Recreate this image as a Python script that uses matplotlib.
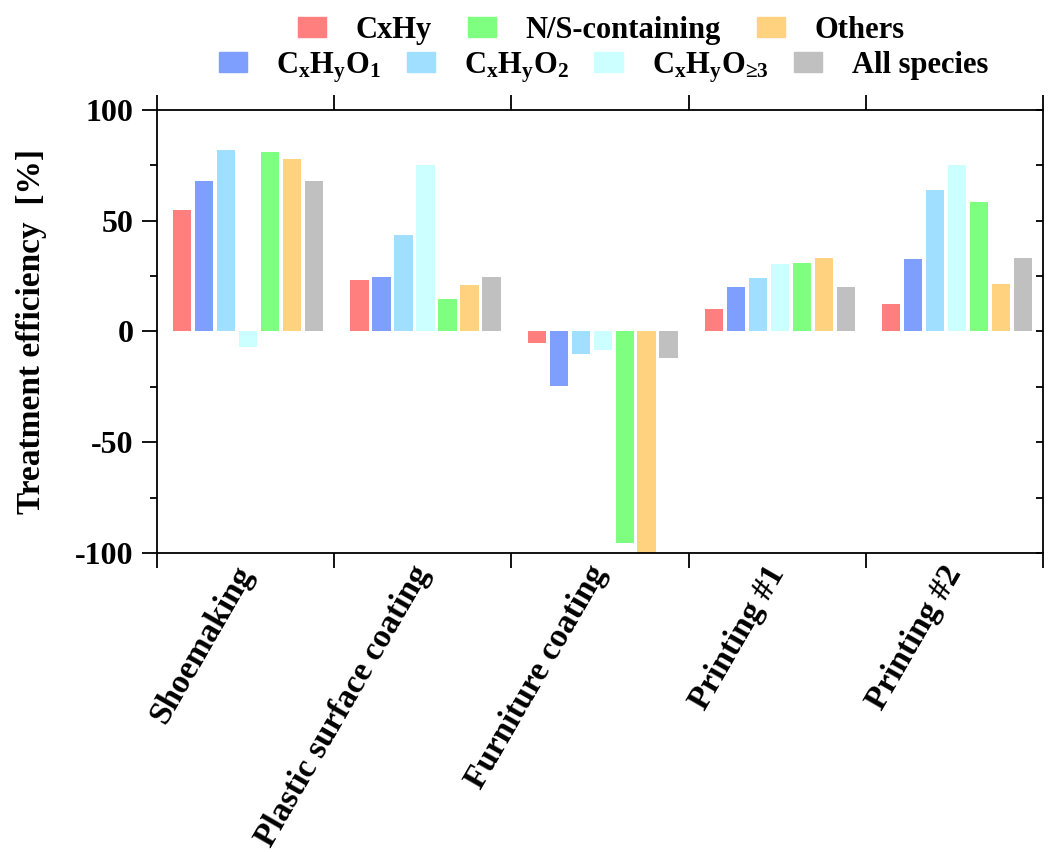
import numpy as np
import matplotlib
matplotlib.use('Agg')
import matplotlib.pyplot as plt
from matplotlib.patches import Patch
from matplotlib.ticker import MultipleLocator

plt.rcParams['font.family'] = ['Liberation Serif', 'DejaVu Serif']
plt.rcParams['font.weight'] = 'bold'
plt.rcParams['axes.unicode_minus'] = False
plt.rcParams['mathtext.fontset'] = 'custom'
plt.rcParams['mathtext.rm'] = 'Liberation Serif:bold'
plt.rcParams['mathtext.it'] = 'Liberation Serif:bold'
plt.rcParams['mathtext.bf'] = 'Liberation Serif:bold'

# data
categories = ['Shoemaking', 'Plastic surface coating', 'Furniture coating', 'Printing #1', 'Printing #2']
cxhy = [55, 23, -5, 10, 12.5]
cxhyo1 = [68, 24.5, -24.5, 20, 32.5]
cxhyo2 = [82, 43.5, -10, 24, 64]
cxhyo3 = [-7, 75, -8.5, 30.5, 75]
ns = [81, 14.5, -95.5, 31, 58.5]
others = [78, 21, -100, 33, 21.5]
allspec = [68, 24.5, -12, 20, 33]

series = [cxhy, cxhyo1, cxhyo2, cxhyo3, ns, others, allspec]
labels = ['CxHy', r'C$_\mathregular{x}$H$_\mathregular{y}$O$_\mathregular{1}$',
          r'C$_\mathregular{x}$H$_\mathregular{y}$O$_\mathregular{2}$',
          r'C$_\mathregular{x}$H$_\mathregular{y}$O$_\mathregular{≥3}$',
          'N/S-containing', 'Others', 'All species']
colors = ['#ff7f7f', '#7f9fff', '#a0dfff', '#ccffff', '#7fff7f', '#ffd27f', '#c0c0c0']

fig = plt.figure(figsize=(10.51, 8.52), dpi=100)
ax = fig.add_axes([0.1494, 0.351, 0.8430, 0.520])

x = np.arange(len(categories)) + 0.5
pitch = 0.124
width = 0.103
for i, (vals, c) in enumerate(zip(series, colors)):
    ax.bar(x + (i - 3) * pitch + 0.015, vals, width, color=c, linewidth=0)

ax.set_xlim(0, 5)
ax.set_ylim(-100, 100)

for s in ax.spines.values():
    s.set_linewidth(1.3)

# category boundary ticks top/bottom
ax.set_xticks(np.arange(0, 6))
ax.set_xticklabels([])
ax.set_xticks(x, minor=True)
ax.set_xticklabels(categories, minor=True, rotation=60, ha='right',
                   va='center', rotation_mode='anchor', fontsize=24, fontweight='bold')
ax.tick_params(axis='x', which='major', direction='out', length=11, width=1.3,
               top=True, bottom=True)
ax.tick_params(axis='x', which='minor', length=0, pad=11)

ax.yaxis.set_major_locator(MultipleLocator(50))
ax.yaxis.set_minor_locator(MultipleLocator(25))
ax.tick_params(axis='y', which='major', direction='out', length=11, width=1.3,
               labelsize=23, pad=6)
ax.tick_params(axis='y', which='minor', direction='out', length=5, width=1.3)
for lab in ax.get_yticklabels():
    lab.set_fontweight('bold')

# right side inward ticks
ax2 = ax.twinx()
ax2.set_ylim(-100, 100)
ax2.yaxis.set_major_locator(MultipleLocator(25))
ax2.tick_params(axis='y', direction='in', length=5, width=1.3, labelright=False)
for s in ax2.spines.values():
    s.set_visible(False)

ax.set_ylabel('Treatment efficiency  [%]', fontsize=24, fontweight='bold', labelpad=20)

order1 = [0, 4, 5]
order2 = [1, 2, 3, 6]
h1 = [Patch(color=colors[i], label=labels[i]) for i in order1]
h2 = [Patch(color=colors[i], label=labels[i]) for i in order2]
leg1 = fig.legend(handles=h1, loc='center', bbox_to_anchor=(0.572, 0.9645), ncol=3,
                  frameon=False, fontsize=22, handlelength=0.92, handleheight=0.62,
                  columnspacing=1.2, handletextpad=0.95, borderpad=0, borderaxespad=0)
leg2 = fig.legend(handles=h2, loc='center', bbox_to_anchor=(0.574, 0.921), ncol=4,
                  frameon=False, fontsize=22, handlelength=0.92, handleheight=0.62,
                  columnspacing=0.85, handletextpad=0.95, borderpad=0, borderaxespad=0)
for leg in (leg1, leg2):
    for t in leg.get_texts():
        t.set_fontweight('bold')

fig.savefig('out.png', dpi=100)
